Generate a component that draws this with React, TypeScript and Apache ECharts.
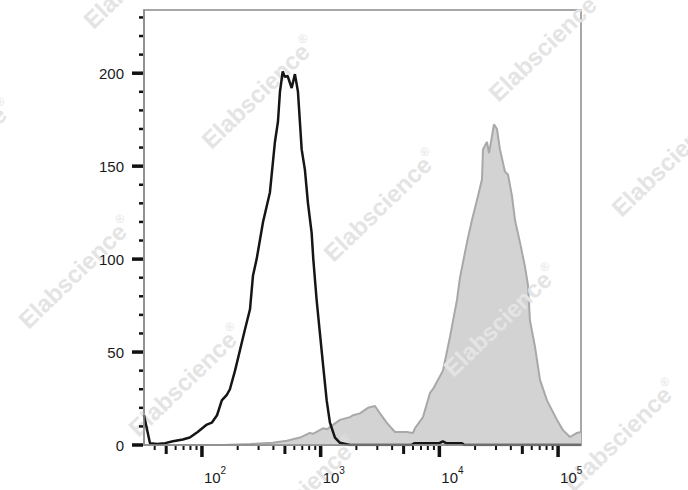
import React, { useEffect, useRef } from "react";
import * as echarts from "echarts";

// Control (isotype / unstained) histogram: [fluorescence, count]
const controlHistogram: [number, number][] = [
  [32.5, 16], [36.5, 1], [42, 0.5], [49, 1], [57, 2], [69, 3], [79, 4], [92, 7],
  [110, 11], [121, 12], [134, 16], [147, 24], [162, 27], [172, 30], [190, 40],
  [209, 51], [230, 62], [254, 73], [269, 91], [289, 100], [327, 120], [374, 136],
  [412, 163], [437, 174], [454, 190], [479, 201], [500, 198], [527, 198.5],
  [570, 192], [607, 199.5], [644, 190], [692, 159], [737, 148], [782, 130],
  [840, 114], [867, 100], [925, 78], [986, 60], [1052, 42], [1124, 24],
  [1197, 12], [1320, 4], [1454, 1.2], [1765, 0], [5800, 0], [6200, 1],
  [10000, 1], [10700, 2], [11400, 1], [15500, 1], [16200, 0], [156000, 0],
];

// Stained sample histogram: [fluorescence, count]
const stainedHistogram: [number, number][] = [
  [32.5, 0], [150, 0], [254, 0.5], [396, 1.2], [454, 1.8], [520, 2.3], [551, 2.7],
  [669, 4], [813, 6.5], [861, 6], [1045, 9], [1130, 8.5], [1270, 10.8],
  [1454, 13.5], [1765, 15], [1871, 16], [2143, 17], [2503, 20], [2867, 21],
  [3160, 17], [3597, 12], [4227, 7], [5303, 7], [5993, 6.5], [6224, 9],
  [7278, 15], [8336, 28], [8830, 30], [10720, 40], [12270, 58], [14070, 78],
  [14910, 90], [17080, 109], [18820, 121], [21150, 134], [22860, 143],
  [23300, 159], [24700, 162], [25180, 163], [26180, 157], [27740, 166],
  [28840, 172.5], [30560, 170], [32400, 159], [35700, 147], [37850, 145.5],
  [40900, 134], [43350, 121], [47760, 109], [52600, 96], [55780, 86],
  [57970, 67], [63860, 53], [70400, 35], [80640, 24], [97900, 13.5],
  [109900, 8], [126000, 4.3], [144200, 6.5], [156000, 7],
];

const xMin = 32.5;
const xMax = 156000;
const yMin = 0;
const yMax = 234;
const yLabelValues = [0, 50, 100, 150, 200];
const decades = [10, 100, 1000, 10000, 100000];

const watermarkCenters: [number, number][] = [
  [140, -28], [258, 92], [380, 205], [500, 320], [620, 435],
  [-45, 155], [75, 272], [185, 380], [300, 492],
  [545, 45], [668, 160],
];

const FONT = "Arial, 'Liberation Sans', sans-serif";

export default function App() {
  const ref = useRef<HTMLDivElement>(null);

  useEffect(() => {
    if (!ref.current) return;
    const chart = echarts.init(ref.current, undefined, { renderer: "svg" });

    // x ticks: kind 2 = decade, 1 = five, 0 = other minor
    const xTicks: [number, number, number][] = [];
    decades.forEach((d) => {
      for (let k = 1; k <= 9; k++) {
        const v = k * d;
        if (v < xMin || v > xMax) continue;
        xTicks.push([v, 0, k === 1 ? 2 : k === 5 ? 1 : 0]);
      }
    });
    const yTicks: [number, number, number][] = [];
    for (let v = 0; v <= 230; v += 10) {
      yTicks.push([xMin, v, v % 50 === 0 ? 2 : 0]);
    }

    chart.setOption({
      animation: false,
      backgroundColor: "#ffffff",
      grid: {
        left: 144,
        right: 107,
        top: 10,
        bottom: 45,
        show: true,
        borderColor: "#8a8a8a",
        borderWidth: 1.5,
        backgroundColor: "transparent",
      },
      xAxis: {
        type: "log",
        logBase: 10,
        min: xMin,
        max: xMax,
        z: 5,
        axisLine: { show: true, lineStyle: { color: "#8a8a8a", width: 1.5 } },
        axisTick: { show: false },
        splitLine: { show: false },
        axisLabel: {
          margin: 20,
          align: "left",
          padding: [0, 0, 0, 2],
          showMinLabel: false,
          showMaxLabel: false,
          formatter: (v: number) => {
            const e = Math.log10(v);
            const r = Math.round(e);
            if (Math.abs(e - r) > 1e-6) return "";
            return `{b|10}{s|${r}}`;
          },
          rich: {
            b: { fontSize: 15, lineHeight: 20, verticalAlign: "bottom", color: "#1a1a1a", fontFamily: FONT },
            s: { fontSize: 10, lineHeight: 10, verticalAlign: "top", color: "#1a1a1a", fontFamily: FONT },
          },
        },
      },
      yAxis: {
        type: "value",
        min: yMin,
        max: yMax,
        interval: 50,
        z: 5,
        axisLine: { show: true, lineStyle: { color: "#8a8a8a", width: 1.5 } },
        axisTick: { show: false },
        splitLine: { show: false },
        axisLabel: {
          margin: 20,
          fontSize: 15,
          color: "#1a1a1a",
          fontFamily: FONT,
          showMaxLabel: false,
          formatter: (v: number) => (yLabelValues.indexOf(v) >= 0 ? String(v) : ""),
        },
      },
      graphic: watermarkCenters.map(([x, y]) => ({
        type: "text",
        x,
        y,
        rotation: (44 * Math.PI) / 180,
        z: 2,
        silent: true,
        style: {
          text: "{a|Elabscience}{r|®}",
          rich: {
            a: { font: `bold 24px ${FONT}`, fill: "#e4e4e4", lineHeight: 26, verticalAlign: "bottom" },
            r: { font: `12px ${FONT}`, fill: "#e4e4e4", lineHeight: 12, verticalAlign: "top" },
          },
          align: "center",
          verticalAlign: "middle",
          textAlign: "center",
          textVerticalAlign: "middle",
        },
      })),
      series: [
        {
          type: "line",
          name: "stained",
          z: 1,
          data: stainedHistogram,
          symbol: "none",
          smooth: false,
          lineStyle: { color: "#a8a8a8", width: 2 },
          areaStyle: { color: "#d3d3d3", opacity: 1 },
          silent: true,
        },
        {
          type: "line",
          name: "control",
          z: 3,
          data: controlHistogram,
          symbol: "none",
          smooth: false,
          lineStyle: { color: "#151515", width: 2.5 },
          silent: true,
        },
        {
          type: "custom",
          z: 6,
          silent: true,
          clip: false,
          data: xTicks,
          renderItem: (_p: any, api: any) => {
            const kind = api.value(2);
            const pt = api.coord([api.value(0), yMin]);
            const len = kind === 2 ? 12 : kind === 1 ? 9 : 5;
            const w = kind === 2 ? 3.5 : kind === 1 ? 3 : 2;
            return {
              type: "line",
              shape: { x1: pt[0], y1: pt[1] + 1, x2: pt[0], y2: pt[1] + len },
              style: { stroke: "#111111", lineWidth: w },
            };
          },
        },
        {
          type: "custom",
          z: 6,
          silent: true,
          clip: false,
          data: yTicks,
          renderItem: (_p: any, api: any) => {
            const kind = api.value(2);
            const pt = api.coord([xMin, api.value(1)]);
            const len = kind === 2 ? 12 : 5;
            const w = kind === 2 ? 3.5 : 2.5;
            return {
              type: "line",
              shape: { x1: pt[0] - len, y1: pt[1], x2: pt[0] - 1, y2: pt[1] },
              style: { stroke: "#111111", lineWidth: w },
            };
          },
        },
      ],
    });

    return () => chart.dispose();
  }, []);

  return (
    <div
      ref={ref}
      style={{ position: "fixed", left: 0, top: 0, width: 688, height: 490, background: "#fff" }}
    />
  );
}
